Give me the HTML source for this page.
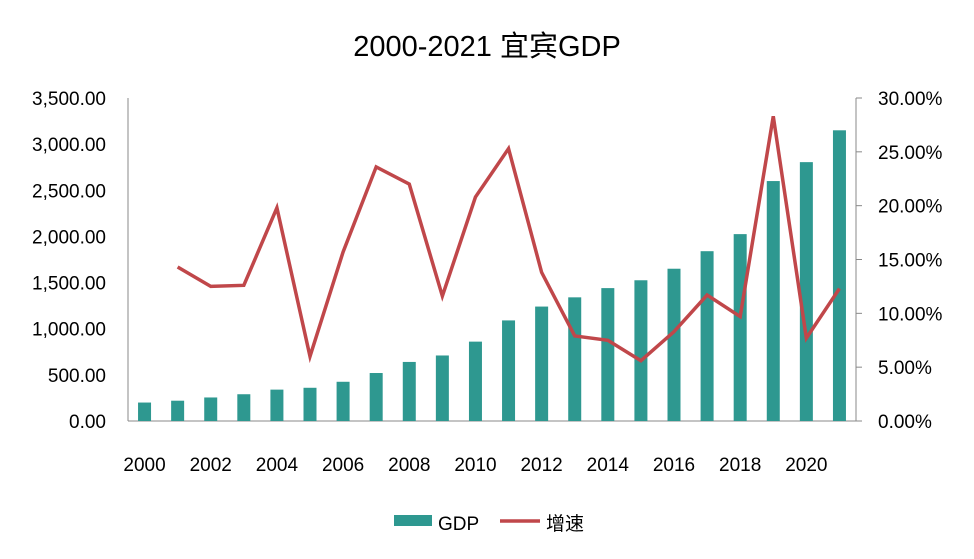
<!DOCTYPE html>
<html><head><meta charset="utf-8"><style>
body{margin:0;background:#fff;}
svg text{font-family:"Liberation Sans","Noto Sans CJK SC",sans-serif;fill:#000;}
</style></head><body>
<svg id="chart" width="974" height="554" viewBox="0 0 974 554">
<text x="487" y="56" font-size="29" text-anchor="middle">2000-2021 宜宾GDP</text>
<g id="plot"></g>
<g>
<rect x="394" y="515" width="38" height="11" fill="#2e9890"/>
<text x="438" y="530" font-size="19">GDP</text>
<line x1="500" y1="521" x2="540" y2="521" stroke="#c0474a" stroke-width="3.5"/>
<text x="546" y="530" font-size="19">增速</text>
</g>
</svg>
<script>
const years=[2000,2001,2002,2003,2004,2005,2006,2007,2008,2009,2010,2011,2012,2013,2014,2015,2016,2017,2018,2019,2020,2021];
const gdp=[200,220,255,290,340,360,425,520,640,710,860,1090,1240,1340,1440,1525,1650,1840,2025,2600,2805,3150];
const growth=[null,14.3,12.5,12.6,19.8,6.0,15.7,23.6,22.0,11.6,20.8,25.3,13.8,7.9,7.5,5.6,8.3,11.7,9.7,28.3,7.7,12.3];
const leftTicks=[0,500,1000,1500,2000,2500,3000,3500];
const rightTicks=[0,5,10,15,20,25,30];
const NS="http://www.w3.org/2000/svg";
const g=document.getElementById('plot');
const X0=128,X1=856,Y0=421,Y1=98;
const band=(X1-X0)/years.length;
const xC=i=>X0+band*(i+0.5);
const yL=v=>Y0-(v/3500)*(Y0-Y1);
const yR=v=>Y0-(v/30)*(Y0-Y1);
function mk(tag,attrs){const e=document.createElementNS(NS,tag);for(const k in attrs)e.setAttribute(k,attrs[k]);g.appendChild(e);return e;}
let e;
e=mk('line',{x1:X0,y1:Y1,x2:X0,y2:Y0,stroke:'#888','stroke-width':1});


e=mk('line',{x1:X1,y1:Y1,x2:X1,y2:Y0,stroke:'#888','stroke-width':1});


e=mk('line',{x1:X0,y1:Y0,x2:X1,y2:Y0,stroke:'#888','stroke-width':1});


leftTicks.forEach(v=>{
 const t=mk('text',{x:106,y:yL(v)+7,'font-size':19,'text-anchor':'end'});
 t.textContent=v.toLocaleString('en-US',{minimumFractionDigits:2,maximumFractionDigits:2});
 
 
});
rightTicks.forEach(v=>{
 const tk=mk('line',{x1:X1,y1:yR(v),x2:X1+6,y2:yR(v),stroke:'#888','stroke-width':1});
 
 
 const t=mk('text',{x:878,y:yR(v)+7,'font-size':19});
 t.textContent=v.toFixed(2)+'%';
 
 
});
years.forEach((y,i)=>{
 const r=mk('rect',{x:xC(i)-6.5,y:yL(gdp[i]),width:13,height:Y0-yL(gdp[i]),fill:'#2e9890'});
 
 
 if(i%2===0){
  const t=mk('text',{x:xC(i),y:471,'font-size':19,'text-anchor':'middle'});
  t.textContent=y;
  
  
 }
});
let pts=[];
growth.forEach((v,i)=>{if(v!==null)pts.push(xC(i)+','+yR(v));});
e=mk('polyline',{points:pts.join(' '),fill:'none',stroke:'#c0474a','stroke-width':3.5,'stroke-linejoin':'miter'});


</script>
</body></html>
